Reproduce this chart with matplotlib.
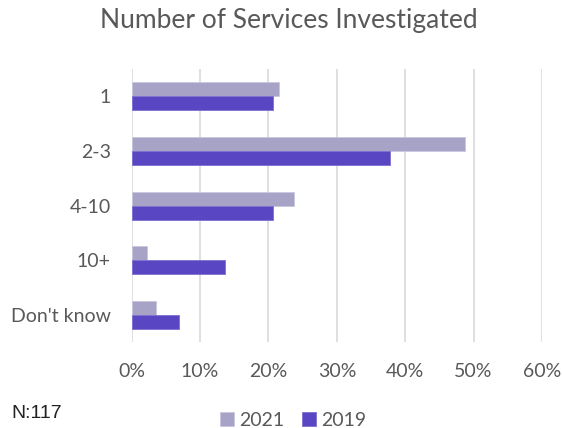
import matplotlib
matplotlib.use("Agg")
import matplotlib.pyplot as plt
import numpy as np

categories = ["1", "2-3", "4-10", "10+", "Don't know"]
share_2021 = [21.6, 48.8, 23.8, 2.2, 3.5]
share_2019 = [20.6, 37.8, 20.6, 13.7, 6.9]
xticks = [0, 10, 20, 30, 40, 50, 60]

C2021 = "#a6a3c7"
C2019 = "#5946c2"
GREY = "#595959"

plt.rcParams["font.family"] = ["Lato", "DejaVu Sans"]

fig = plt.figure(figsize=(5.62, 4.28), dpi=100)
ax = fig.add_axes([0.2343, 0.1998, 0.7301, 0.639])

y = np.arange(len(categories))
h = 0.256
ax.barh(y - h / 2, share_2021, height=h, color=C2021, edgecolor="#c9c7de", lw=0.6, label="2021")
ax.barh(y + h / 2, share_2019, height=h, color=C2019, edgecolor="#7d6fd0", lw=0.6, label="2019")

ax.set_ylim(len(categories) - 0.5, -0.5)
ax.set_xlim(0, 60)
ax.set_yticks(y)
ax.set_yticklabels(categories)
ax.set_xticks(xticks)
ax.set_xticklabels([f"{t}%" for t in xticks])
ax.tick_params(length=0, labelsize=14, labelcolor=GREY)
ax.tick_params(axis="x", pad=15)
ax.tick_params(axis="y", pad=15)
ax.grid(axis="x", color="#d9d9d9", lw=1.2)
ax.set_axisbelow(True)
for s in ax.spines.values():
    s.set_visible(False)

fig.text(0.514, 0.953, "Number of Services Investigated", ha="center", va="center",
         fontsize=19, color=GREY)
fig.text(0.021, 0.035, "N:117", ha="left", va="center", fontsize=14,
         family="Liberation Sans", color="#222222")
fig.legend(loc="center", bbox_to_anchor=(0.522, 0.018), ncol=2, frameon=False,
           fontsize=14, labelcolor=GREY, handlelength=0.7, handleheight=0.7,
           handletextpad=0.3, columnspacing=0.9, borderaxespad=0, borderpad=0)

fig.savefig("out.png", dpi=100)
